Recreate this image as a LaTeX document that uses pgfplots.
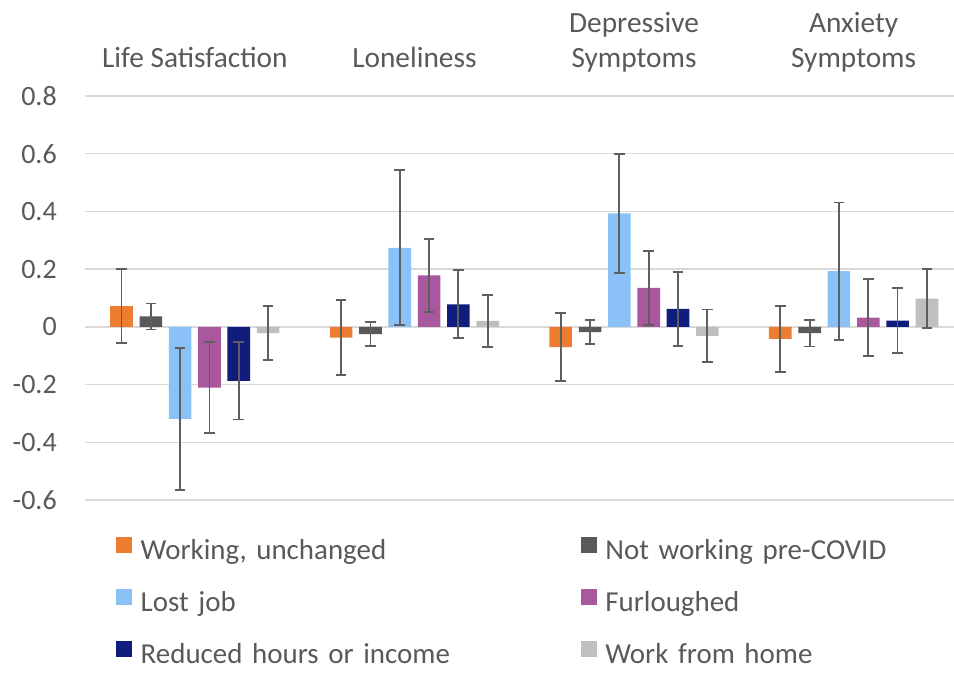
\documentclass[border=0pt]{standalone}
\usepackage{pgfplots}
\pgfplotsset{compat=1.18}
\usepackage{fontspec}
\setmainfont{Carlito}
\definecolor{cOrange}{HTML}{ED7D31}
\definecolor{cDark}{HTML}{595959}
\definecolor{cLBlue}{HTML}{8AC2F7}
\definecolor{cPurple}{HTML}{A9589F}
\definecolor{cNavy}{HTML}{101D7D}
\definecolor{cLGray}{HTML}{BFBFBF}
\definecolor{txt}{HTML}{595959}
\definecolor{gridc}{HTML}{D9D9D9}
\definecolor{errc}{HTML}{5F5F5F}
\begin{document}
\begin{tikzpicture}
\path[use as bounding box] (0,0) rectangle (715.5pt,-504.75pt);
\begin{axis}[
  at={(63.75pt,-72pt)}, anchor=north west,
  scale only axis, width=651.75pt, height=303pt,
  xmin=-0.5, xmax=3.457, ymin=-0.6, ymax=0.8,
  ytick={-0.6,-0.4,-0.2,0,0.2,0.4,0.6,0.8},
  yticklabels={-0.6,-0.4,-0.2,0,0.2,0.4,0.6,0.8},
  xtick={0,1,2,3},
  xticklabels={Life Satisfaction, Loneliness, {Depressive\\Symptoms}, {Anxiety\\Symptoms}},
  xticklabel pos=upper,
  axis line style={draw=none},
  major tick length=0pt,
  ymajorgrids, grid style={color=gridc, line width=1pt},
  every tick label/.append style={font=\fontsize{21pt}{26.5pt}\selectfont, text=txt},
  xticklabel style={font=\fontsize{22pt}{26.5pt}\selectfont, align=center, anchor=south, inner sep=0pt, text depth=0pt, yshift=21pt},
  yticklabel style={anchor=east, inner sep=0pt, xshift=-21pt},
  bar width=0.103,
  error bars/y dir=both, error bars/y explicit,
  error bars/error bar style={color=errc, line width=1.4pt},
  error bars/error mark options={color=errc, line width=1.4pt, mark size=4pt, rotate=90},
  legend columns=2,
  legend cell align=left,
  legend image code/.code={\fill[#1] (0pt,0pt) rectangle (12pt,12pt);},
  legend style={draw=none, fill=none, inner sep=0pt, outer sep=0pt,
    at={(0.0357,-0.0916)}, anchor=north west,
    /tikz/column sep=0pt,
    /tikz/every odd column/.append style={column sep=6.5pt},
    row sep=17.1pt,
    nodes={inner sep=0pt, text width=330pt, text height=15pt, text depth=5pt,
      text=txt, font=\fontsize{21.7pt}{25pt}\selectfont}},
]
% Working, unchanged (offset -0.334)
\addplot[ybar, bar shift=0pt, fill=cOrange, draw=none]
  coordinates {(-0.334,0.072) +- (0,0.127) (0.666,-0.037) +- (0,0.130) (1.666,-0.070) +- (0,0.119) (2.666,-0.042) +- (0,0.113)};
\addlegendentry{Working, unchanged}
% Not working pre-COVID (offset -0.200)
\addplot[ybar, bar shift=0pt, fill=cDark, draw=none]
  coordinates {(-0.200,0.036) +- (0,0.045) (0.800,-0.025) +- (0,0.041) (1.800,-0.018) +- (0,0.042) (2.800,-0.022) +- (0,0.046)};
\addlegendentry{Not working pre-COVID}
% Lost job (offset -0.067)
\addplot[ybar, bar shift=0pt, fill=cLBlue, draw=none]
  coordinates {(-0.067,-0.319) +- (0,0.245) (0.933,0.274) +- (0,0.269) (1.933,0.393) +- (0,0.205) (2.933,0.193) +- (0,0.238)};
\addlegendentry{Lost job}
% Furloughed (offset 0.067)
\addplot[ybar, bar shift=0pt, fill=cPurple, draw=none]
  coordinates {(0.067,-0.211) +- (0,0.158) (1.067,0.178) +- (0,0.127) (2.067,0.135) +- (0,0.128) (3.067,0.032) +- (0,0.134)};
\addlegendentry{Furloughed}
% Reduced hours or income (offset 0.200)
\addplot[ybar, bar shift=0pt, fill=cNavy, draw=none]
  coordinates {(0.200,-0.187) +- (0,0.134) (1.200,0.078) +- (0,0.118) (2.200,0.062) +- (0,0.127) (3.200,0.022) +- (0,0.113)};
\addlegendentry{Reduced hours or income}
% Work from home (offset 0.334)
\addplot[ybar, bar shift=0pt, fill=cLGray, draw=none]
  coordinates {(0.334,-0.022) +- (0,0.094) (1.334,0.021) +- (0,0.090) (2.334,-0.031) +- (0,0.091) (3.334,0.098) +- (0,0.102)};
\addlegendentry{Work from home}
\end{axis}
\end{tikzpicture}
\end{document}
